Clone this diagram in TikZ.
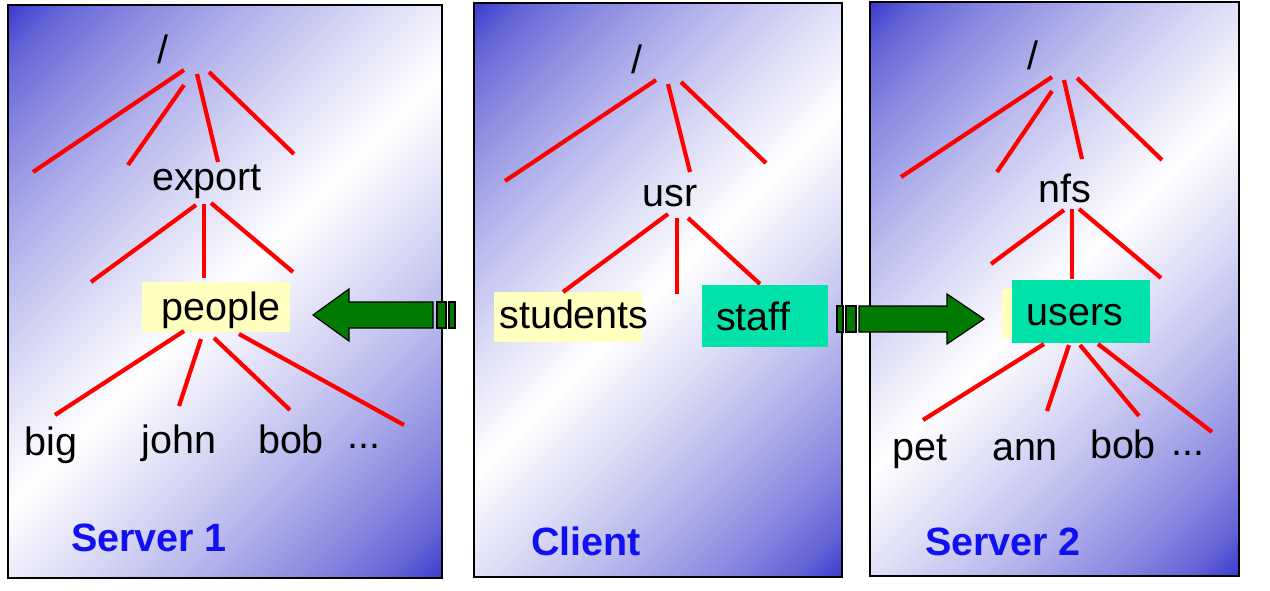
\documentclass[tikz,border=0pt]{standalone}
\usepackage{fontspec}
\setmainfont{Liberation Sans}
\definecolor{boxblue}{RGB}{60,60,206}
\colorlet{bsA}{white!20!boxblue}
\colorlet{bsB}{white!38!boxblue}
\colorlet{bsC}{white!62!boxblue}
\colorlet{bsD}{white!82!boxblue}
\definecolor{hlyellow}{RGB}{255,255,192}
\definecolor{hlgreen}{RGB}{0,226,170}
\definecolor{arrowgreen}{RGB}{0,122,0}
\definecolor{labelblue}{RGB}{16,16,240}
\pgfdeclareverticalshading{panelshade}{100bp}{color(0bp)=(boxblue); color(14.64bp)=(boxblue); color(18.18bp)=(bsA); color(23.48bp)=(bsB); color(32.32bp)=(bsC); color(41.16bp)=(bsD); color(50bp)=(white); color(58.84bp)=(bsD); color(67.68bp)=(bsC); color(76.52bp)=(bsB); color(81.82bp)=(bsA); color(85.36bp)=(boxblue); color(100bp)=(boxblue)}
\begin{document}
\begin{tikzpicture}[x=1pt,y=-1pt,
  panel/.style={draw=black,line width=2pt,shade,shading=panelshade,shading angle=45,inner sep=0pt,outer sep=0pt},
  edge/.style={draw=red,line width=4.2pt},
  lbl/.style={inner sep=0pt,anchor=base,font=\fontsize{39.5}{46}\selectfont},
  srv/.style={inner sep=0pt,anchor=base,font=\fontsize{39.5}{46}\selectfont\bfseries,text=labelblue},
  hl/.style={inner sep=0pt,outer sep=0pt,draw=none},
  blockarrow/.style={fill=arrowgreen,draw=black,line width=1.2pt,line join=miter}
]
\useasboundingbox (0,0) rectangle (1270,590);
% panels
\node[panel,minimum width=434pt,minimum height=573pt] (p1) at (225,291.5) {};
\node[panel,minimum width=368pt,minimum height=574pt] (p2) at (658,290) {};
\node[panel,minimum width=369pt,minimum height=574pt] (p3) at (1054.5,289) {};
% block arrows
\draw[blockarrow] (313,315) -- (349,289) -- (349,302) -- (433,302) -- (433,328) -- (349,328) -- (349,341) -- cycle;
\draw[blockarrow] (437,302) rectangle (446,328);
\draw[blockarrow] (449,302) rectangle (455,328);
\draw[blockarrow] (984,319) -- (947,294) -- (947,306) -- (859,306) -- (859,332) -- (947,332) -- (947,344) -- cycle;
\draw[blockarrow] (837,306) rectangle (843,332);
\draw[blockarrow] (846,306) rectangle (856,332);
% highlights
\node[hl,fill=hlyellow,minimum width=148pt,minimum height=50pt] (hpeople) at (216,307) {};
\node[hl,fill=hlyellow,minimum width=148pt,minimum height=50pt] (hstudents) at (568,317) {};
\node[hl,fill=hlgreen,minimum width=126pt,minimum height=62pt] (hstaff) at (765,316) {};
\node[hl,fill=hlyellow,minimum width=60pt,minimum height=49pt] (husersy) at (1032,313.5) {};
\node[hl,fill=hlgreen,minimum width=138pt,minimum height=63pt] (husers) at (1081,311.5) {};
% ---- Server 1 tree
\node[lbl] (r1) at (163,63) {/};
\draw[edge] (184,70) -- (33,172);
\draw[edge] (184,85) -- (128,165);
\draw[edge] (197,74) -- (218,162);
\draw[edge] (209,72) -- (294,154);
\node[lbl] (export) at (207,190) {export};
\draw[edge] (196,205) -- (91,282);
\draw[edge] (204,204) -- (204,278);
\draw[edge] (211,203) -- (293,272);
\node[lbl] (people) at (221,320) {people};
\draw[edge] (184,331) -- (55,415);
\draw[edge] (201,339) -- (179,406);
\draw[edge] (214,338) -- (290,410);
\draw[edge] (239,334) -- (404,425);
\node[lbl] (big) at (51,455) {big};
\node[lbl] (john) at (179,453) {john};
\node[lbl] (bob1) at (291,453) {bob};
\node[lbl] (dots1) at (364,448) {...};
\node[srv] (s1) at (149,551) {Server 1};
% ---- Client tree
\node[lbl] (r2) at (637,73) {/};
\draw[edge] (656,80) -- (505,181);
\draw[edge] (668,84) -- (690,172);
\draw[edge] (681,82) -- (766,163);
\node[lbl] (usr) at (670,206) {usr};
\draw[edge] (668,214) -- (563,292);
\draw[edge] (677,218) -- (677,294);
\draw[edge] (688,218) -- (760,284);
\node[lbl] (students) at (574,328) {students};
\node[lbl] (staff) at (753,330) {staff};
\node[srv] (cl) at (586,555) {Client};
% ---- Server 2 tree
\node[lbl] (r3) at (1033,69) {/};
\draw[edge] (1052,77) -- (901,177);
\draw[edge] (1052,91) -- (997,172);
\draw[edge] (1064,80) -- (1082,159);
\draw[edge] (1077,78) -- (1162,160);
\node[lbl] (nfs) at (1065,202) {nfs};
\draw[edge] (1064,210) -- (991,264);
\draw[edge] (1072,209) -- (1072,279);
\draw[edge] (1079,209) -- (1161,278);
\node[lbl] (users) at (1075,325) {users};
\draw[edge] (1044,344) -- (923,420);
\draw[edge] (1069,345) -- (1047,411);
\draw[edge] (1080,345) -- (1139,416);
\draw[edge] (1098,344) -- (1212,432);
\node[lbl] (pet) at (920,460) {pet};
\node[lbl] (ann) at (1025,460) {ann};
\node[lbl] (bob2) at (1123,458) {bob};
\node[lbl] (dots2) at (1188,455) {...};
\node[srv] (s2) at (1003,555) {Server 2};
\end{tikzpicture}
\end{document}
